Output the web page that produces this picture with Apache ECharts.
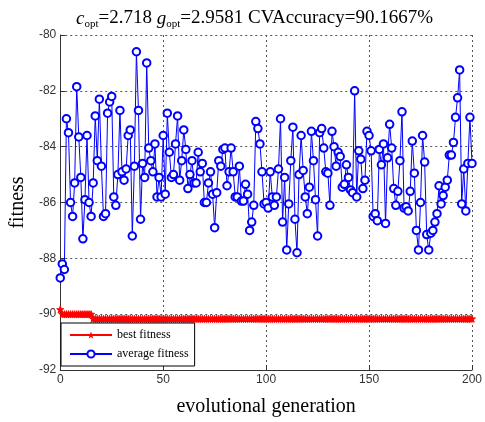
<!DOCTYPE html>
<html>
<head>
<meta charset="utf-8">
<style>
html,body{margin:0;padding:0;background:#fff;}
#chart{width:485px;height:422px;}
</style>
<script src="https://cdn.jsdelivr.net/npm/echarts@6/dist/echarts.min.js"></script>
</head>
<body>
<div id="chart"></div>
<script>
var xTicks = [0, 50, 100, 150, 200];
var yTicks = [-92, -90, -88, -86, -84, -82, -80];

var avgFitness = [
  -88.7, -88.2, -88.4, -83.0, -83.5, -86.0, -86.5, -85.3, -81.85, -83.65,
  -85.1, -87.3, -85.9, -83.6, -86.0, -86.5, -85.3, -82.9, -84.5, -82.3,
  -84.7, -86.5, -86.4, -82.8, -82.4, -82.2, -85.8, -86.1, -85.0, -82.7,
  -84.9, -85.2, -84.8, -83.6, -83.4, -87.2, -84.7, -80.6, -82.7, -86.6,
  -84.6, -85.1, -81.0, -84.05, -84.5, -84.9, -83.9, -85.8, -85.1, -85.8,
  -83.6, -85.7, -82.8, -84.2, -85.1, -85.0, -83.9, -82.9, -85.2, -84.5,
  -83.4, -84.1, -85.5, -85.0, -84.5, -85.3, -85.3, -84.2, -84.9, -84.6,
  -86.0, -86.0, -85.3, -84.9, -85.7, -86.9, -85.65, -84.5, -84.7, -84.1,
  -84.05, -85.4, -84.9, -84.05, -84.9, -85.8, -85.8, -84.7, -85.95, -85.95,
  -85.35, -85.7, -87.0, -86.7, -86.1, -83.1, -83.35, -83.9, -84.9, -86.05,
  -86.0, -86.2, -84.9, -85.8, -86.1, -85.8, -84.8, -83.0, -86.7, -85.1,
  -87.7, -86.05, -84.5, -83.3, -86.6, -87.8, -85.0, -83.6, -84.85, -85.8,
  -86.4, -85.45, -83.45, -84.5, -85.9, -87.2, -83.5, -83.35, -84.05, -84.9,
  -84.95, -86.1, -83.45, -84.0, -84.7, -84.2, -84.35, -85.45, -85.35, -84.65,
  -85.1, -85.55, -85.65, -82.0, -85.8, -84.15, -84.45, -85.5, -85.2, -83.45,
  -83.6, -84.15, -86.5, -86.4, -86.65, -84.1, -84.65, -83.9, -86.75, -84.4,
  -83.2, -84.05, -85.5, -86.1, -85.6, -84.5, -82.75, -86.2, -86.15, -86.3,
  -85.6, -83.8, -84.95, -87.0, -87.7, -86.0, -83.6, -84.55, -87.15, -87.7,
  -87.1, -87.0, -86.7, -86.4, -85.4, -86.05, -85.75, -85.45, -85.2, -84.3,
  -84.3, -83.85, -82.95, -82.25, -81.25, -86.05, -84.8, -86.3, -84.6, -82.95,
  -84.6
];

var bestFitness = [
  -89.8333, -90.0, -90.0, -90.0, -90.0, -90.0, -90.0, -90.0, -90.0, -90.0,
  -90.0, -90.0, -90.0, -90.0, -90.0, -90.0, -90.1667, -90.1667, -90.1667, -90.1667,
  -90.1667, -90.1667, -90.1667, -90.1667, -90.1667, -90.1667, -90.1667, -90.1667, -90.1667, -90.1667,
  -90.1667, -90.1667, -90.1667, -90.1667, -90.1667, -90.1667, -90.1667, -90.1667, -90.1667, -90.1667,
  -90.1667, -90.1667, -90.1667, -90.1667, -90.1667, -90.1667, -90.1667, -90.1667, -90.1667, -90.1667,
  -90.1667, -90.1667, -90.1667, -90.1667, -90.1667, -90.1667, -90.1667, -90.1667, -90.1667, -90.1667,
  -90.1667, -90.1667, -90.1667, -90.1667, -90.1667, -90.1667, -90.1667, -90.1667, -90.1667, -90.1667,
  -90.1667, -90.1667, -90.1667, -90.1667, -90.1667, -90.1667, -90.1667, -90.1667, -90.1667, -90.1667,
  -90.1667, -90.1667, -90.1667, -90.1667, -90.1667, -90.1667, -90.1667, -90.1667, -90.1667, -90.1667,
  -90.1667, -90.1667, -90.1667, -90.1667, -90.1667, -90.1667, -90.1667, -90.1667, -90.1667, -90.1667,
  -90.1667, -90.1667, -90.1667, -90.1667, -90.1667, -90.1667, -90.1667, -90.1667, -90.1667, -90.1667,
  -90.1667, -90.1667, -90.1667, -90.1667, -90.1667, -90.1667, -90.1667, -90.1667, -90.1667, -90.1667,
  -90.1667, -90.1667, -90.1667, -90.1667, -90.1667, -90.1667, -90.1667, -90.1667, -90.1667, -90.1667,
  -90.1667, -90.1667, -90.1667, -90.1667, -90.1667, -90.1667, -90.1667, -90.1667, -90.1667, -90.1667,
  -90.1667, -90.1667, -90.1667, -90.1667, -90.1667, -90.1667, -90.1667, -90.1667, -90.1667, -90.1667,
  -90.1667, -90.1667, -90.1667, -90.1667, -90.1667, -90.1667, -90.1667, -90.1667, -90.1667, -90.1667,
  -90.1667, -90.1667, -90.1667, -90.1667, -90.1667, -90.1667, -90.1667, -90.1667, -90.1667, -90.1667,
  -90.1667, -90.1667, -90.1667, -90.1667, -90.1667, -90.1667, -90.1667, -90.1667, -90.1667, -90.1667,
  -90.1667, -90.1667, -90.1667, -90.1667, -90.1667, -90.1667, -90.1667, -90.1667, -90.1667, -90.1667,
  -90.1667, -90.1667, -90.1667, -90.1667, -90.1667, -90.1667, -90.1667, -90.1667, -90.1667, -90.1667,
  -90.1667
];

var seriesNames = ['best fitness', 'average fitness'];
var titleParts = { c: '2.718', g: '2.9581', acc: '90.1667%' };

function pairs(arr) { return arr.map(function (v, i) { return [i, v]; }); }

var serif = '"Liberation Serif", "DejaVu Serif", serif';
var sans = '"Liberation Sans", Arial, sans-serif';
var gridLine = { show: true, lineStyle: { color: '#555', type: [2, 3], width: 1 } };

var chart = echarts.init(document.getElementById('chart'), null, { renderer: 'canvas' });
chart.setOption({
  animation: false,
  backgroundColor: '#fff',
  title: {
    left: 71, top: 2,
    text: '{i|c}{s|opt}{n|=' + titleParts.c + ' }{i|g}{s|opt}{n|=' + titleParts.g + ' CVAccuracy=' + titleParts.acc + '}',
    textStyle: {
      fontWeight: 'normal',
      rich: {
        i: { fontFamily: serif, fontStyle: 'italic', fontWeight: 'normal', fontSize: 19, color: '#000', lineHeight: 23 },
        n: { fontFamily: serif, fontWeight: 'normal', fontSize: 19, color: '#000', lineHeight: 23 },
        s: { fontFamily: serif, fontWeight: 'normal', fontSize: 11, color: '#000', lineHeight: 12, verticalAlign: 'bottom' }
      }
    }
  },
  grid: { left: 56, right: 8, top: 35, bottom: 50, containLabel: false },
  legend: {
    orient: 'vertical', left: 61, top: 323,
    data: seriesNames,
    backgroundColor: '#fff', borderColor: '#000', borderWidth: 1,
    padding: [6, 6, 6, 8], itemGap: 7, itemWidth: 42, itemHeight: 9,
    textStyle: { fontFamily: serif, fontSize: 12, color: '#000' }
  },
  xAxis: {
    type: 'value', min: 0, max: 200, interval: 50,
    name: 'evolutional generation', nameLocation: 'middle', nameGap: 27,
    nameTextStyle: { fontFamily: serif, fontSize: 20, color: '#000' },
    axisLine: { show: true, lineStyle: { color: '#333', width: 1 } },
    axisTick: { show: true, inside: true, length: 5, lineStyle: { color: '#333' } },
    axisLabel: { fontFamily: sans, fontSize: 12, color: '#333', margin: 4 },
    splitLine: gridLine
  },
  yAxis: {
    type: 'value', min: -92, max: -80, interval: 2,
    name: 'fitness', nameLocation: 'middle', nameGap: 28,
    nameTextStyle: { fontFamily: serif, fontSize: 20, color: '#000' },
    axisLine: { show: true, lineStyle: { color: '#333', width: 1 } },
    axisTick: { show: true, inside: true, length: 5, lineStyle: { color: '#333' } },
    axisLabel: { fontFamily: sans, fontSize: 12, color: '#333', margin: 4 },
    splitLine: gridLine
  },
  series: [
    {
      name: seriesNames[0], type: 'line', data: pairs(bestFitness),
      symbol: 'path://M0,-10 L2.4,-3.2 L9.5,-3.1 L3.8,1.2 L5.9,8.1 L0,4 L-5.9,8.1 L-3.8,1.2 L-9.5,-3.1 L-2.4,-3.2 Z',
      symbolSize: 7, showAllSymbol: true,
      itemStyle: { color: '#ff0000', borderColor: '#ff0000' },
      lineStyle: { color: '#ff0000', width: 1.5 }
    },
    {
      name: seriesNames[1], type: 'line', data: pairs(avgFitness),
      symbol: 'emptyCircle', symbolSize: 7.5, showAllSymbol: true,
      itemStyle: { color: '#0000ff', borderColor: '#0000ff', borderWidth: 1 },
      lineStyle: { color: '#0000ff', width: 1 }
    }
  ]
});
</script>
</body>
</html>
